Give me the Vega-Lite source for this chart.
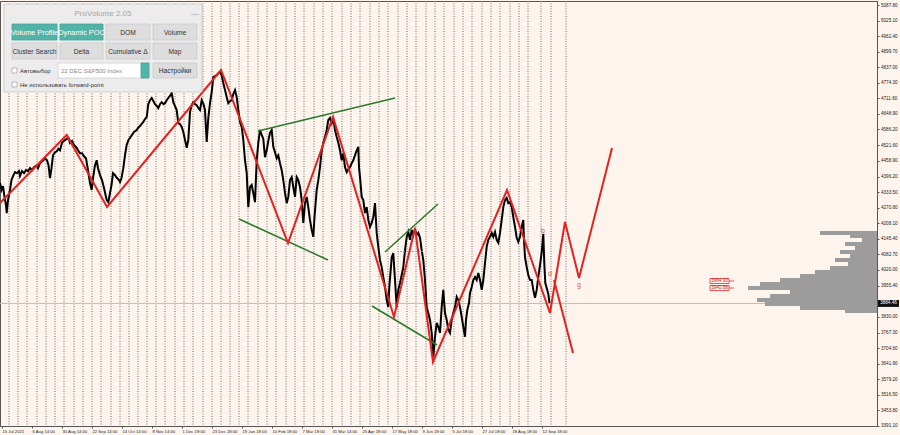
{
"$schema": "https://vega.github.io/schema/vega-lite/v6.json",
"width": 877, "height": 425,
"autosize": {"type": "none"},
"padding": {"left": 0, "top": 1, "right": 23, "bottom": 9},
"background": "#fdf4ee",
"config": {"view": {"stroke": "#555555", "strokeWidth": 1, "fill": "#fdf4ee"}, "font": "Liberation Sans",
  "axis": {"grid": false, "labelFontSize": 4.6, "labelColor": "#222222", "labelOverlap": false, "labelFlush": false, "tickSize": 2, "tickColor": "#555555", "domainColor": "#555555", "tickCount": 40}},
"datasets": {
"sep": [{"x":9},{"x":18},{"x":27},{"x":37},{"x":46},{"x":55},{"x":64},{"x":74},{"x":83},{"x":92},{"x":101},{"x":111},{"x":120},{"x":129},{"x":138},{"x":147},{"x":156},{"x":165},{"x":175},{"x":184},{"x":193},{"x":203},{"x":212},{"x":221},{"x":230},{"x":239},{"x":248},{"x":258},{"x":267},{"x":276},{"x":286},{"x":295},{"x":304},{"x":314},{"x":323},{"x":332},{"x":342},{"x":351},{"x":360},{"x":370},{"x":379},{"x":388},{"x":398},{"x":407},{"x":416},{"x":426},{"x":435},{"x":444},{"x":454},{"x":463},{"x":472},{"x":482},{"x":491},{"x":500},{"x":510},{"x":519},{"x":528},{"x":541},{"x":551},{"x":566}],
"px": [
{"i":0,"p":4370},{"i":1.5,"p":4342},{"i":3,"p":4358},{"i":4.5,"p":4314},{"i":6,"p":4281},{"i":6.7,"p":4249},{"i":8,"p":4301},{"i":10,"p":4342},{"i":11.5,"p":4382},{"i":13,"p":4398},{"i":15,"p":4414},{"i":17,"p":4410},{"i":19,"p":4418},{"i":20,"p":4398},{"i":22,"p":4418},{"i":24,"p":4410},{"i":26,"p":4422},{"i":28,"p":4418},{"i":30,"p":4430},{"i":32,"p":4422},{"i":34,"p":4434},{"i":36.7,"p":4442},{"i":38,"p":4430},{"i":40,"p":4450},{"i":42,"p":4458},{"i":43.5,"p":4462},{"i":45,"p":4470},{"i":47,"p":4462},{"i":48.5,"p":4442},{"i":50,"p":4390},{"i":51.5,"p":4430},{"i":53,"p":4482},{"i":55,"p":4494},{"i":56.7,"p":4498},{"i":58.5,"p":4508},{"i":60,"p":4502},{"i":62,"p":4532},{"i":64,"p":4540},{"i":66.7,"p":4548},{"i":68.5,"p":4552},{"i":70,"p":4532},{"i":72,"p":4540},{"i":74,"p":4524},{"i":76.7,"p":4512},{"i":78,"p":4502},{"i":80,"p":4490},{"i":82,"p":4490},{"i":84,"p":4478},{"i":86,"p":4470},{"i":88,"p":4422},{"i":90,"p":4370},{"i":91.7,"p":4342},{"i":93,"p":4390},{"i":95,"p":4442},{"i":96.7,"p":4462},{"i":98,"p":4430},{"i":100,"p":4402},{"i":102,"p":4382},{"i":104,"p":4350},{"i":106.7,"p":4301},{"i":108.3,"p":4293},{"i":110,"p":4330},{"i":111.5,"p":4362},{"i":113,"p":4410},{"i":115,"p":4402},{"i":117,"p":4390},{"i":119,"p":4382},{"i":120,"p":4374},{"i":121.5,"p":4390},{"i":123.3,"p":4430},{"i":125,"p":4482},{"i":126.7,"p":4524},{"i":128.5,"p":4544},{"i":130,"p":4552},{"i":132,"p":4564},{"i":134,"p":4576},{"i":136.7,"p":4584},{"i":138,"p":4592},{"i":140,"p":4600},
{"i":141.5,"p":4608},{"i":143.3,"p":4616},{"i":145,"p":4628},{"i":146.7,"p":4636},{"i":148.3,"p":4688},{"i":150,"p":4704},{"i":151.7,"p":4713},{"i":153.5,"p":4700},{"i":155,"p":4688},{"i":157,"p":4680},{"i":158.3,"p":4672},{"i":160,"p":4688},{"i":161.7,"p":4696},{"i":163.5,"p":4688},{"i":165,"p":4692},{"i":166.7,"p":4704},{"i":168.3,"p":4713},{"i":170,"p":4721},{"i":171.7,"p":4733},{"i":173.3,"p":4696},{"i":175,"p":4680},{"i":176.7,"p":4664},{"i":178.3,"p":4612},{"i":180,"p":4608},{"i":181.7,"p":4596},{"i":183.3,"p":4576},{"i":185,"p":4544},{"i":186.7,"p":4512},{"i":188.3,"p":4544},{"i":190,"p":4656},{"i":191.7,"p":4684},{"i":193.3,"p":4696},{"i":195,"p":4688},{"i":196.7,"p":4684},{"i":198.5,"p":4672},{"i":200,"p":4664},{"i":201.7,"p":4704},{"i":203.5,"p":4688},{"i":205,"p":4664},{"i":206.7,"p":4536},{"i":208.3,"p":4632},{"i":210,"p":4692},{"i":211.7,"p":4737},{"i":213.3,"p":4797},{"i":215,"p":4801},{"i":216.7,"p":4805},{"i":218.3,"p":4813},{"i":220,"p":4817},{"i":221.7,"p":4805},{"i":223.3,"p":4773},{"i":225,"p":4745},{"i":226.7,"p":4717},{"i":228.3,"p":4692},{"i":230,"p":4700},{"i":231.7,"p":4704},{"i":233.3,"p":4729},{"i":235,"p":4745},{"i":236.7,"p":4717},{"i":238.3,"p":4664},{"i":240,"p":4616},{"i":241.7,"p":4596},{"i":243.3,"p":4544},{"i":245,"p":4462},{"i":246.7,"p":4410},{"i":248.3,"p":4273},{"i":250,"p":4354},{"i":251.7,"p":4362},{"i":253.3,"p":4330},{"i":255,"p":4293},{"i":256.7,"p":4462},{"i":258.3,"p":4532},{"i":260,"p":4584},{"i":261.7,"p":4564},{"i":263.3,"p":4548},{"i":265,"p":4474},{"i":266.7,"p":4502},{"i":268.5,"p":4544},{"i":270,"p":4572},
{"i":271.7,"p":4584},{"i":273.3,"p":4516},{"i":275,"p":4494},{"i":276.7,"p":4470},{"i":278.3,"p":4482},{"i":280,"p":4450},{"i":281.7,"p":4422},{"i":283.3,"p":4382},{"i":285,"p":4330},{"i":286.7,"p":4289},{"i":288.3,"p":4314},{"i":290,"p":4382},{"i":291.7,"p":4394},{"i":293.3,"p":4354},{"i":295,"p":4314},{"i":296.7,"p":4394},{"i":298.3,"p":4382},{"i":300,"p":4354},{"i":301.7,"p":4301},{"i":303.3,"p":4209},{"i":305,"p":4289},{"i":306.7,"p":4314},{"i":308.3,"p":4273},{"i":310,"p":4221},{"i":311.7,"p":4181},{"i":313.3,"p":4153},{"i":314.5,"p":4233},{"i":316.7,"p":4342},{"i":318.3,"p":4382},{"i":320,"p":4434},{"i":321.7,"p":4502},{"i":323.3,"p":4532},{"i":325,"p":4556},{"i":326.7,"p":4584},{"i":328.3,"p":4624},{"i":330,"p":4632},{"i":331.7,"p":4612},{"i":333.3,"p":4632},{"i":335,"p":4584},{"i":336.7,"p":4556},{"i":338.3,"p":4532},{"i":340,"p":4502},{"i":341.7,"p":4462},{"i":343.3,"p":4490},{"i":345,"p":4434},{"i":346.7,"p":4414},{"i":348.5,"p":4426},{"i":350,"p":4434},{"i":351.7,"p":4450},{"i":353.3,"p":4462},{"i":355,"p":4482},{"i":356.7,"p":4502},{"i":358.3,"p":4516},{"i":359,"p":4434},{"i":360,"p":4394},{"i":361.7,"p":4314},{"i":363.3,"p":4301},{"i":365,"p":4249},{"i":366.7,"p":4273},{"i":368.3,"p":4221},{"i":370,"p":4193},{"i":371.7,"p":4209},{"i":373.3,"p":4233},{"i":375,"p":4289},{"i":376.7,"p":4169},{"i":378.3,"p":4113},{"i":380,"p":4059},{"i":381.7,"p":4031},{"i":383.3,"p":3991},{"i":385,"p":3951},{"i":386.7,"p":3898},{"i":388.3,"p":3870},{"i":389.3,"p":3951},{"i":390.7,"p":4019},{"i":391.7,"p":4071},{"i":393.3,"p":4087},{"i":395,"p":3979},{"i":396.7,"p":3870},{"i":398.3,"p":3939},{"i":400,"p":3967},
{"i":401.7,"p":3999},{"i":403.3,"p":4031},{"i":405,"p":4099},{"i":406.7,"p":4153},{"i":408.3,"p":4173},{"i":410,"p":4141},{"i":411.7,"p":4181},{"i":413.3,"p":4161},{"i":415,"p":4181},{"i":416.7,"p":4161},{"i":418.3,"p":4169},{"i":420,"p":4149},{"i":421.7,"p":4099},{"i":423.3,"p":4059},{"i":425,"p":3979},{"i":426.7,"p":3870},{"i":428.3,"p":3846},{"i":430,"p":3818},{"i":431.7,"p":3766},{"i":432.7,"p":3710},{"i":433.3,"p":3670},{"i":435,"p":3750},{"i":436.7,"p":3806},{"i":438.3,"p":3790},{"i":440,"p":3766},{"i":441.7,"p":3870},{"i":443.3,"p":3939},{"i":444,"p":3898},{"i":445,"p":3846},{"i":446.7,"p":3818},{"i":448.3,"p":3778},{"i":450,"p":3766},{"i":451.7,"p":3818},{"i":453.3,"p":3846},{"i":455,"p":3870},{"i":456.7,"p":3911},{"i":458.3,"p":3898},{"i":460,"p":3870},{"i":461.7,"p":3830},{"i":463.3,"p":3790},{"i":465,"p":3750},{"i":466,"p":3818},{"i":467.3,"p":3858},{"i":469,"p":3886},{"i":470,"p":3927},{"i":471.7,"p":3951},{"i":473.3,"p":3979},{"i":475,"p":3991},{"i":476.7,"p":3979},{"i":478.3,"p":4007},{"i":480,"p":3979},{"i":481.7,"p":3939},{"i":483.3,"p":3979},{"i":485,"p":4047},{"i":486.7,"p":4113},{"i":488.3,"p":4141},{"i":490,"p":4153},{"i":491.7,"p":4169},{"i":493.3,"p":4153},{"i":495,"p":4173},{"i":496.7,"p":4141},{"i":498.3,"p":4129},{"i":500,"p":4169},{"i":501.7,"p":4221},{"i":503.3,"p":4273},{"i":505,"p":4301},{"i":506.7,"p":4310},{"i":508.3,"p":4289},{"i":510,"p":4293},{"i":511.7,"p":4273},{"i":513.3,"p":4233},{"i":515,"p":4193},{"i":516.7,"p":4149},{"i":518.3,"p":4133},{"i":520,"p":4153},{"i":521.7,"p":4193},{"i":523.3,"p":4221},{"i":524,"p":4141},{"i":525,"p":4071},{"i":526.7,"p":4031},{"i":528.3,"p":3999},{"i":530,"p":3979},{"i":531.7,"p":3979},{"i":533.3,"p":3939},{"i":535,"p":3907},{"i":536.7,"p":3939},{"i":538.3,"p":3991},{"i":540,"p":4039},{"i":541.7,"p":4091},{"i":543.3,"p":4165},{"i":544.3,"p":4047},{"i":545.3,"p":3967},{"i":546.7,"p":3947},{"i":548.3,"p":3923},{"i":549.5,"p":3886}
],
"zz": [{"id":"z","x":0,"p":4289.5},{"id":"z","x":66.7,"p":4563.7},{"id":"z","x":107,"p":4273.4},{"id":"z","x":221,"p":4825.8},{"id":"z","x":288,"p":4128.2},{"id":"z","x":333,"p":4636.3},{"id":"z","x":394,"p":3829.9},{"id":"z","x":415,"p":4188.7},{"id":"z","x":433,"p":3648.4},{"id":"z","x":507,"p":4341.9},{"id":"z","x":550,"p":3846},{"id":"z","x":565,"p":4212.9},{"id":"z","x":579,"p":3987.1},{"id":"z","x":612,"p":4511.3},{"id":"f","x":554,"p":3979},{"id":"f","x":573,"p":3684.7}],
"green": [{"id":"g1","x":258,"p":4579.8},{"id":"g1","x":395,"p":4712.9},{"id":"g2","x":239,"p":4225},{"id":"g2","x":328,"p":4059.7},{"id":"g3","x":385,"p":4091.9},{"id":"g3","x":438,"p":4285.5},{"id":"g4","x":372,"p":3874.2},{"id":"g4","x":437,"p":3717}],
"dash": [{"x":397,"p":4094},{"x":423,"p":4094}],
"letters": [{"x":543,"p":4176.6,"t":"b"},{"x":550,"p":4003.2,"t":"d"},{"x":579,"p":3958.9,"t":"g"}],
"prof": [{"lo":4160.5,"hi":4176.6,"x":820},{"lo":4148.4,"hi":4160.5,"x":850},{"lo":4132.3,"hi":4148.4,"x":862},{"lo":4116.1,"hi":4132.3,"x":845},{"lo":4100,"hi":4116.1,"x":855},{"lo":4083.9,"hi":4100,"x":840},{"lo":4067.7,"hi":4083.9,"x":850},{"lo":4051.6,"hi":4067.7,"x":835},{"lo":4035.5,"hi":4051.6,"x":848},{"lo":4019.4,"hi":4035.5,"x":830},{"lo":4003.2,"hi":4019.4,"x":815},{"lo":3987.1,"hi":4003.2,"x":800},{"lo":3971,"hi":3987.1,"x":780},{"lo":3954.8,"hi":3971,"x":760},{"lo":3938.7,"hi":3954.8,"x":748},{"lo":3922.6,"hi":3938.7,"x":790},{"lo":3906.5,"hi":3922.6,"x":770},{"lo":3890.3,"hi":3906.5,"x":757},{"lo":3874.2,"hi":3890.3,"x":765},{"lo":3858.1,"hi":3874.2,"x":800},{"lo":3846,"hi":3858.1,"x":845}],
"lvl": [{"x1":710,"x2":729,"lo":3964.9,"hi":3985.1,"pc":3975,"xt":719.5,"t":"3964.93"},{"x1":710,"x2":729,"lo":3936.7,"hi":3956.9,"pc":3946.8,"xt":719.5,"t":"3940.88"}],
"lvlLine": [{"id":"a","x":729,"p":3975},{"id":"a","x":734,"p":3975},{"id":"b","x":729,"p":3946.8},{"id":"b","x":734,"p":3946.8}],
"cur": [{"x1":878,"x2":899,"lo":3870.5,"hi":3898.5,"p":3884.46,"xt":888.5,"t":"3884.46"}],
"panelR": [
{"k":"panel","x1":4,"x2":202,"p1":4737.1,"p2":5091.9},
{"k":"active","x1":12,"x2":57,"p1":4946.7,"p2":5011.2},
{"k":"active","x1":60,"x2":103,"p1":4946.7,"p2":5011.2},
{"k":"button","x1":106,"x2":150,"p1":4946.7,"p2":5011.2},
{"k":"button","x1":153,"x2":197,"p1":4946.7,"p2":5011.2},
{"k":"button","x1":12,"x2":57,"p1":4870.1,"p2":4934.6},
{"k":"button","x1":60,"x2":103,"p1":4870.1,"p2":4934.6},
{"k":"button","x1":106,"x2":150,"p1":4870.1,"p2":4934.6},
{"k":"button","x1":153,"x2":197,"p1":4870.1,"p2":4934.6},
{"k":"check","x1":12,"x2":17,"p1":4813.7,"p2":4833.8},
{"k":"input","x1":58,"x2":149,"p1":4793.5,"p2":4854.0},
{"k":"active","x1":141,"x2":149,"p1":4793.5,"p2":4854.0},
{"k":"button","x1":153,"x2":197,"p1":4793.5,"p2":4854.0},
{"k":"check","x1":12,"x2":17,"p1":4757.2,"p2":4777.4}
],
"panelTc": [
{"k":"title","x":103,"p":5051.6,"t":"ProVolume 2.05"},
{"k":"on","x":34.5,"p":4974.9,"t":"Volume Profile"},
{"k":"on","x":81.5,"p":4974.9,"t":"Dynamic POC"},
{"k":"off","x":128,"p":4974.9,"t":"DOM"},
{"k":"off","x":175,"p":4974.9,"t":"Volume"},
{"k":"off","x":34.5,"p":4898.3,"t":"Cluster Search"},
{"k":"off","x":81.5,"p":4898.3,"t":"Delta"},
{"k":"off","x":128,"p":4898.3,"t":"Cumulative Δ"},
{"k":"off","x":175,"p":4898.3,"t":"Map"},
{"k":"off","x":175,"p":4821.7,"t":"Настройки"},
{"k":"title","x":195,"p":5051.6,"t":"—"}
],
"panelTl": [
{"k":"off","x":20,"p":4821.7,"t":"Автовыбор"},
{"k":"hint","x":61,"p":4821.7,"t":"22 DEC S&P500 Index"},
{"k":"off","x":20,"p":4765.3,"t":"Не использовать forward-point"}
]
},
"layer": [
{"data": {"name": "sep"}, "mark": {"type": "rule", "color": "#707070", "strokeWidth": 1, "strokeDash": [1, 1.5]},
 "encoding": {"x": {"field": "x", "type": "quantitative", "scale": {"domain": [0, 877], "nice": false, "zero": false},
   "axis": {"title": null, "orient": "bottom", "tickCount": 40, "values": [2,32,62,92,122,152,182,212,242,272,302,332,362,392,422,452,482,512,542], "labelExpr": "['15 Jul 2021','6 Aug 14:00','30 Aug 14:00','22 Sep 14:00','14 Oct 14:00','8 Nov 14:00','1 Dec 18:00','23 Dec 18:00','19 Jan 18:00','10 Feb 18:00','7 Mar 18:00','31 Mar 14:00','25 Apr 18:00','17 May 18:00','9 Jun 18:00','5 Jul 18:00','27 Jul 18:00','18 Aug 18:00','12 Sep 18:00'][round((datum.value-2)/30)]", "labelAlign": "left", "labelBaseline": "top", "labelPadding": 1.5, "labelFontSize": 4.2, "labelOverlap": false}}}},
{"data": {"name": "cur"}, "mark": {"type": "rule", "color": "#c4bcb7", "strokeWidth": 1},
 "encoding": {"y": {"field": "p", "type": "quantitative", "scale": {"domain": [3390.4, 5104], "nice": false, "zero": false},
   "axis": {"title": null, "orient": "right", "tickCount": 40, "values": [5087.8,5025.1,4962.4,4899.7,4837.0,4774.3,4711.6,4648.9,4586.2,4521.6,4458.9,4396.2,4333.5,4270.8,4208.1,4145.4,4082.7,4020.0,3955.4,3830.0,3767.3,3704.6,3641.9,3579.2,3516.5,3453.8,3391.1], "format": ".2f", "labelPadding": 1.5, "labelOverlap": false, "labelFontSize": 4.6, "labelBaseline": "middle"}}}},
{"data": {"name": "prof"}, "mark": {"type": "rect", "color": "#9c9c9c"},
 "encoding": {"x": {"field": "x", "type": "quantitative", "axis": {"title": null, "tickCount": 40}}, "x2": {"datum": 877}, "y": {"field": "lo", "type": "quantitative", "axis": {"title": null, "orient": "right", "tickCount": 40, "labelOverlap": false}}, "y2": {"field": "hi"}}},
{"data": {"name": "px"}, "mark": {"type": "line", "color": "#000000", "strokeWidth": 2},
 "encoding": {"x": {"field": "i", "type": "quantitative", "axis": {"title": null, "tickCount": 40}}, "y": {"field": "p", "type": "quantitative", "axis": {"title": null, "orient": "right", "tickCount": 40, "labelOverlap": false}}}},
{"data": {"name": "green"}, "mark": {"type": "line", "color": "#2a7a2a", "strokeWidth": 1.5},
 "encoding": {"x": {"field": "x", "type": "quantitative", "axis": {"title": null, "tickCount": 40}}, "y": {"field": "p", "type": "quantitative", "axis": {"title": null, "orient": "right", "tickCount": 40, "labelOverlap": false}}, "detail": {"field": "id"}}},
{"data": {"name": "dash"}, "mark": {"type": "line", "color": "#e07070", "strokeWidth": 0.8, "strokeDash": [2, 1]},
 "encoding": {"x": {"field": "x", "type": "quantitative", "axis": {"title": null, "tickCount": 40}}, "y": {"field": "p", "type": "quantitative", "axis": {"title": null, "orient": "right", "tickCount": 40, "labelOverlap": false}}}},
{"data": {"name": "zz"}, "mark": {"type": "line", "color": "#e8201e", "strokeWidth": 2, "clip": true},
 "encoding": {"x": {"field": "x", "type": "quantitative", "axis": {"title": null, "tickCount": 40}}, "y": {"field": "p", "type": "quantitative", "axis": {"title": null, "orient": "right", "tickCount": 40, "labelOverlap": false}}, "detail": {"field": "id"}}},
{"data": {"name": "letters"}, "mark": {"type": "text", "color": "#e05050", "fontSize": 7, "align": "center", "baseline": "middle"},
 "encoding": {"x": {"field": "x", "type": "quantitative", "axis": {"title": null, "tickCount": 40}}, "y": {"field": "p", "type": "quantitative", "axis": {"title": null, "orient": "right", "tickCount": 40, "labelOverlap": false}}, "text": {"field": "t"}}},
{"data": {"name": "lvl"}, "mark": {"type": "rect", "fill": "#fff6f2", "stroke": "#e03030", "strokeWidth": 0.8},
 "encoding": {"x": {"field": "x1", "type": "quantitative", "axis": {"title": null, "tickCount": 40}}, "x2": {"field": "x2"}, "y": {"field": "lo", "type": "quantitative", "axis": {"title": null, "orient": "right", "tickCount": 40, "labelOverlap": false}}, "y2": {"field": "hi"}}},
{"data": {"name": "lvl"}, "mark": {"type": "text", "color": "#d02020", "fontSize": 4.6, "align": "center", "baseline": "middle"},
 "encoding": {"x": {"field": "xt", "type": "quantitative", "axis": {"title": null, "tickCount": 40}}, "y": {"field": "pc", "type": "quantitative", "axis": {"title": null, "orient": "right", "tickCount": 40, "labelOverlap": false}}, "text": {"field": "t"}}},
{"data": {"name": "lvlLine"}, "mark": {"type": "line", "color": "#e03030", "strokeWidth": 0.8},
 "encoding": {"x": {"field": "x", "type": "quantitative", "axis": {"title": null, "tickCount": 40}}, "y": {"field": "p", "type": "quantitative", "axis": {"title": null, "orient": "right", "tickCount": 40, "labelOverlap": false}}, "detail": {"field": "id"}}},
{"data": {"name": "cur"}, "mark": {"type": "rect", "color": "#111111", "clip": false},
 "encoding": {"x": {"field": "x1", "type": "quantitative", "axis": {"title": null, "tickCount": 40}}, "x2": {"field": "x2"}, "y": {"field": "lo", "type": "quantitative", "axis": {"title": null, "orient": "right", "tickCount": 40, "labelOverlap": false}}, "y2": {"field": "hi"}}},
{"data": {"name": "cur"}, "mark": {"type": "text", "color": "#ffffff", "fontSize": 4.6, "align": "center", "baseline": "middle", "clip": false},
 "encoding": {"x": {"field": "xt", "type": "quantitative", "axis": {"title": null, "tickCount": 40}}, "y": {"field": "p", "type": "quantitative", "axis": {"title": null, "orient": "right", "tickCount": 40, "labelOverlap": false}}, "text": {"field": "t"}}},
{"data": {"name": "panelR"}, "mark": {"type": "rect", "strokeWidth": 0.8},
 "encoding": {"x": {"field": "x1", "type": "quantitative", "axis": {"title": null, "tickCount": 40}}, "x2": {"field": "x2"}, "y": {"field": "p1", "type": "quantitative", "axis": {"title": null, "orient": "right", "tickCount": 40, "labelOverlap": false}}, "y2": {"field": "p2"},
  "fill": {"field": "k", "type": "nominal", "legend": null, "scale": {"domain": ["panel","active","button","input","check"], "range": ["#ececec","#52b3a8","#dddddd","#ffffff","#ffffff"]}},
  "stroke": {"field": "k", "type": "nominal", "legend": null, "scale": {"domain": ["panel","active","button","input","check"], "range": ["#c8c8c8","#45a398","#cccccc","#d0d0d0","#aaaaaa"]}}}},
{"data": {"name": "panelTc"}, "mark": {"type": "text", "fontSize": 6, "align": "center", "baseline": "middle"},
 "encoding": {"x": {"field": "x", "type": "quantitative", "axis": {"title": null, "tickCount": 40}}, "y": {"field": "p", "type": "quantitative", "axis": {"title": null, "orient": "right", "tickCount": 40, "labelOverlap": false}}, "text": {"field": "t"},
  "color": {"field": "k", "type": "nominal", "legend": null, "scale": {"domain": ["title","on","off","hint"], "range": ["#a5a5a5","#ffffff","#333333","#8a8a8a"]}},
  "size": {"field": "k", "type": "nominal", "legend": null, "scale": {"domain": ["title","on","off","hint"], "range": [8,6,6,5.5]}}}},
{"data": {"name": "panelTl"}, "mark": {"type": "text", "fontSize": 6, "align": "left", "baseline": "middle"},
 "encoding": {"x": {"field": "x", "type": "quantitative", "axis": {"title": null, "tickCount": 40}}, "y": {"field": "p", "type": "quantitative", "axis": {"title": null, "orient": "right", "tickCount": 40, "labelOverlap": false}}, "text": {"field": "t"},
  "color": {"field": "k", "type": "nominal", "legend": null, "scale": {"domain": ["title","on","off","hint"], "range": ["#a5a5a5","#ffffff","#333333","#8a8a8a"]}}}}
],
"resolve": {"scale": {"color": "independent", "fill": "independent", "stroke": "independent", "size": "independent"}}
}
